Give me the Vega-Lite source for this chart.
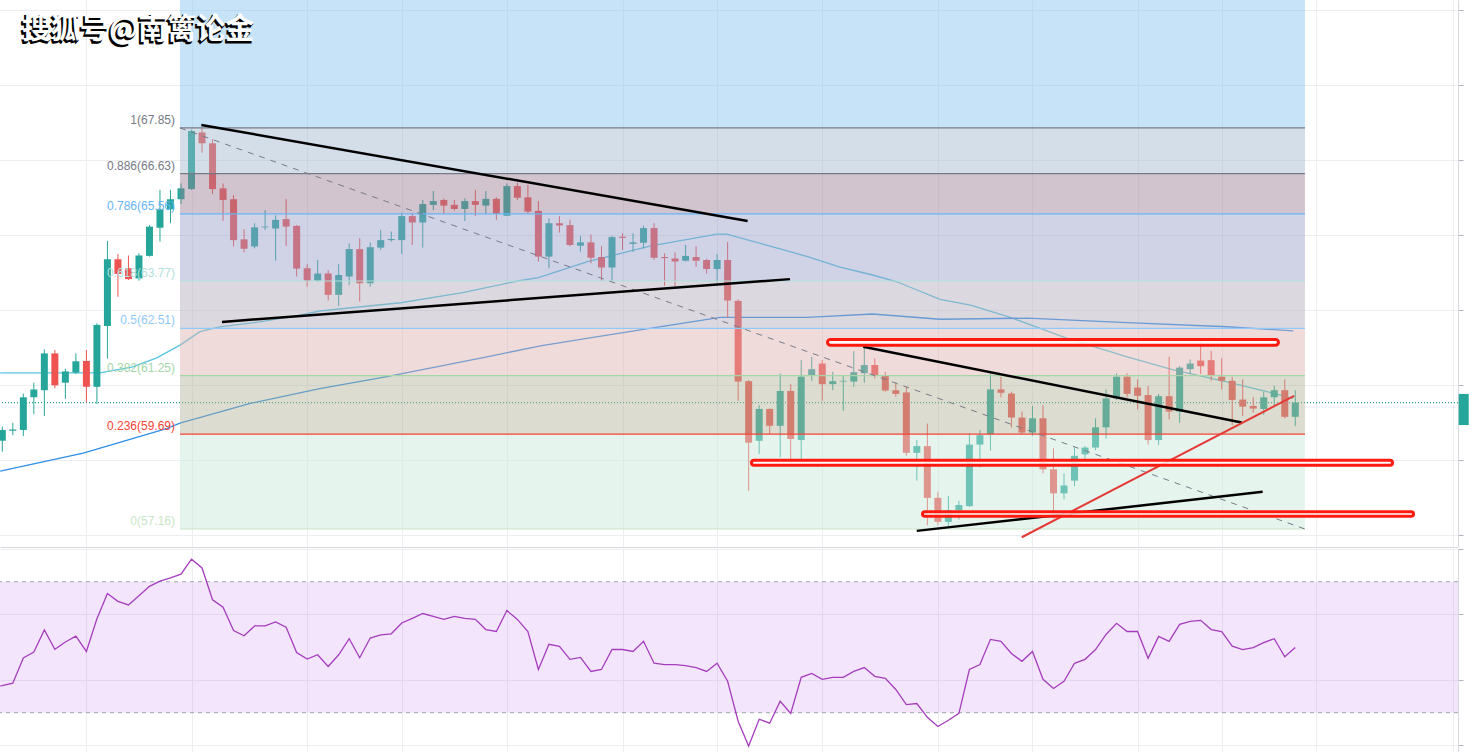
{
 "$schema": "https://vega.github.io/schema/vega-lite/v6.json",
 "padding": 0,
 "background": "#ffffff",
 "spacing": 1,
 "config": {"view": {"stroke": null}, "axis": {"gridColor": "#eceef2", "domainColor": "#d6d8de", "tickColor": "#b0b3bc", "labels": false, "title": null}},
 "datasets": {
  "candles": [
   {"i":0,"o":59.51,"h":59.89,"l":59.22,"c":59.80},{"i":1,"o":59.78,"h":59.99,"l":59.66,"c":59.81},{"i":2,"o":59.80,"h":60.77,"l":59.64,"c":60.67},{"i":3,"o":60.67,"h":61.06,"l":60.22,"c":60.88},{"i":4,"o":60.86,"h":61.95,"l":60.17,"c":61.84},{"i":5,"o":61.84,"h":61.93,"l":60.91,"c":60.99},{"i":6,"o":61.06,"h":61.43,"l":60.63,"c":61.36},{"i":7,"o":61.33,"h":61.84,"l":61.29,"c":61.63},{"i":8,"o":61.64,"h":61.93,"l":60.53,"c":60.95},{"i":9,"o":60.95,"h":62.64,"l":60.49,"c":62.60},
   {"i":10,"o":62.57,"h":64.84,"l":61.70,"c":64.35},{"i":11,"o":64.35,"h":64.49,"l":63.35,"c":63.96},{"i":12,"o":64.11,"h":64.45,"l":63.80,"c":63.82},{"i":13,"o":63.84,"h":64.51,"l":63.78,"c":64.45},{"i":14,"o":64.44,"h":65.26,"l":64.42,"c":65.22},{"i":15,"o":65.19,"h":66.20,"l":64.82,"c":65.68},{"i":16,"o":65.68,"h":66.20,"l":65.31,"c":65.95},{"i":17,"o":65.95,"h":66.37,"l":65.82,"c":66.24},{"i":18,"o":66.22,"h":67.81,"l":66.20,"c":67.77},{"i":19,"o":67.73,"h":67.85,"l":67.19,"c":67.44},
   {"i":20,"o":67.44,"h":67.55,"l":66.09,"c":66.22},{"i":21,"o":66.24,"h":66.37,"l":65.37,"c":65.93},{"i":22,"o":65.95,"h":66.06,"l":64.69,"c":64.86},{"i":23,"o":64.88,"h":65.15,"l":64.53,"c":64.63},{"i":24,"o":64.69,"h":65.31,"l":64.64,"c":65.20},{"i":25,"o":65.20,"h":65.66,"l":65.13,"c":65.22},{"i":26,"o":65.17,"h":65.52,"l":64.31,"c":65.40},{"i":27,"o":65.42,"h":65.95,"l":64.70,"c":65.22},{"i":28,"o":65.24,"h":65.26,"l":63.89,"c":64.10},{"i":29,"o":64.11,"h":64.22,"l":63.62,"c":63.78},
   {"i":30,"o":63.78,"h":64.33,"l":63.75,"c":63.97},{"i":31,"o":63.97,"h":64.06,"l":63.25,"c":63.40},{"i":32,"o":63.40,"h":64.22,"l":63.10,"c":63.93},{"i":33,"o":63.89,"h":64.77,"l":63.66,"c":64.62},{"i":34,"o":64.62,"h":64.91,"l":63.22,"c":63.71},{"i":35,"o":63.71,"h":64.80,"l":63.62,"c":64.67},{"i":36,"o":64.66,"h":65.13,"l":64.60,"c":64.86},{"i":37,"o":64.86,"h":65.09,"l":64.82,"c":64.89},{"i":38,"o":64.86,"h":65.59,"l":64.49,"c":65.50},{"i":39,"o":65.50,"h":65.59,"l":64.73,"c":65.33},
   {"i":40,"o":65.33,"h":65.93,"l":64.66,"c":65.82},{"i":41,"o":65.80,"h":66.17,"l":65.66,"c":65.90},{"i":42,"o":65.93,"h":65.97,"l":65.56,"c":65.78},{"i":43,"o":65.80,"h":65.93,"l":65.65,"c":65.69},{"i":44,"o":65.69,"h":65.97,"l":65.37,"c":65.90},{"i":45,"o":65.90,"h":66.20,"l":65.50,"c":65.80},{"i":46,"o":65.78,"h":66.17,"l":65.56,"c":65.96},{"i":47,"o":65.96,"h":66.00,"l":65.40,"c":65.56},{"i":48,"o":65.51,"h":66.37,"l":65.50,"c":66.30},{"i":49,"o":66.30,"h":66.39,"l":65.93,"c":65.99},
   {"i":50,"o":66.00,"h":66.33,"l":65.56,"c":65.62},{"i":51,"o":65.64,"h":65.90,"l":64.29,"c":64.42},{"i":52,"o":64.42,"h":65.44,"l":64.11,"c":65.31},{"i":53,"o":65.31,"h":65.50,"l":65.06,"c":65.25},{"i":54,"o":65.26,"h":65.40,"l":64.69,"c":64.73},{"i":55,"o":64.71,"h":64.97,"l":64.55,"c":64.80},{"i":56,"o":64.80,"h":65.01,"l":64.24,"c":64.39},{"i":57,"o":64.41,"h":64.70,"l":63.78,"c":64.13},{"i":58,"o":64.13,"h":64.97,"l":63.78,"c":64.94},{"i":59,"o":64.95,"h":65.04,"l":64.60,"c":64.92},
   {"i":60,"o":64.76,"h":65.04,"l":64.55,"c":64.80},{"i":61,"o":64.79,"h":65.24,"l":64.64,"c":65.18},{"i":62,"o":65.18,"h":65.31,"l":64.33,"c":64.39},{"i":63,"o":64.41,"h":64.51,"l":63.64,"c":64.38},{"i":64,"o":64.37,"h":64.53,"l":63.62,"c":64.29},{"i":65,"o":64.31,"h":64.73,"l":64.29,"c":64.44},{"i":66,"o":64.41,"h":64.70,"l":64.15,"c":64.31},{"i":67,"o":64.33,"h":64.36,"l":63.97,"c":64.09},{"i":68,"o":64.09,"h":64.49,"l":63.73,"c":64.33},{"i":69,"o":64.33,"h":64.81,"l":62.80,"c":63.25},
   {"i":70,"o":63.24,"h":63.28,"l":60.58,"c":61.09},{"i":71,"o":61.10,"h":61.13,"l":58.18,"c":59.46},{"i":72,"o":59.51,"h":60.46,"l":59.16,"c":60.36},{"i":73,"o":60.36,"h":60.37,"l":59.69,"c":59.91},{"i":74,"o":59.91,"h":61.31,"l":59.07,"c":60.84},{"i":75,"o":60.84,"h":61.02,"l":58.89,"c":59.56},{"i":76,"o":59.53,"h":61.66,"l":59.01,"c":61.22},{"i":77,"o":61.24,"h":61.75,"l":61.11,"c":61.42},{"i":78,"o":61.57,"h":61.66,"l":60.58,"c":61.02},{"i":79,"o":61.02,"h":61.35,"l":60.86,"c":61.10},
   {"i":80,"o":61.09,"h":61.26,"l":60.31,"c":61.11},{"i":81,"o":61.09,"h":61.90,"l":60.95,"c":61.34},{"i":82,"o":61.31,"h":62.00,"l":61.06,"c":61.53},{"i":83,"o":61.53,"h":61.71,"l":61.17,"c":61.24},{"i":84,"o":61.26,"h":61.35,"l":60.82,"c":60.85},{"i":85,"o":60.86,"h":61.06,"l":60.69,"c":60.76},{"i":86,"o":60.80,"h":60.95,"l":59.11,"c":59.19},{"i":87,"o":59.19,"h":59.53,"l":58.45,"c":59.37},{"i":88,"o":59.37,"h":59.97,"l":57.26,"c":57.99},{"i":89,"o":57.99,"h":58.15,"l":57.26,"c":57.35},
   {"i":90,"o":57.35,"h":58.04,"l":57.24,"c":57.66},{"i":91,"o":57.66,"h":57.91,"l":57.41,"c":57.80},{"i":92,"o":57.77,"h":59.71,"l":57.75,"c":59.41},{"i":93,"o":59.41,"h":59.80,"l":58.80,"c":59.66},{"i":94,"o":59.69,"h":61.31,"l":59.25,"c":60.88},{"i":95,"o":60.88,"h":61.22,"l":60.67,"c":60.79},{"i":96,"o":60.77,"h":60.82,"l":59.87,"c":60.13},{"i":97,"o":60.13,"h":60.29,"l":59.69,"c":59.73},{"i":98,"o":59.73,"h":60.44,"l":59.64,"c":60.11},{"i":99,"o":60.11,"h":60.46,"l":58.64,"c":58.75},
   {"i":100,"o":58.75,"h":59.31,"l":57.44,"c":58.11},{"i":101,"o":58.11,"h":58.64,"l":57.95,"c":58.32},{"i":102,"o":58.45,"h":59.35,"l":58.30,"c":59.11},{"i":103,"o":59.15,"h":59.37,"l":59.01,"c":59.33},{"i":104,"o":59.33,"h":60.11,"l":59.26,"c":59.87},{"i":105,"o":59.87,"h":60.88,"l":59.57,"c":60.64},{"i":106,"o":60.64,"h":61.31,"l":60.60,"c":61.22},{"i":107,"o":61.22,"h":61.31,"l":60.67,"c":60.76},{"i":108,"o":60.93,"h":61.15,"l":60.35,"c":60.71},{"i":109,"o":60.73,"h":60.97,"l":59.41,"c":59.53},
   {"i":110,"o":59.53,"h":60.76,"l":59.40,"c":60.70},{"i":111,"o":60.70,"h":61.75,"l":60.08,"c":60.29},{"i":112,"o":60.29,"h":61.50,"l":59.99,"c":61.46},{"i":113,"o":61.42,"h":61.68,"l":61.29,"c":61.57},{"i":114,"o":61.65,"h":62.21,"l":61.29,"c":61.50},{"i":115,"o":61.66,"h":61.91,"l":61.11,"c":61.25},{"i":116,"o":61.22,"h":61.71,"l":60.88,"c":61.11},{"i":117,"o":61.11,"h":61.22,"l":59.93,"c":60.60},{"i":118,"o":60.61,"h":61.15,"l":60.17,"c":60.42},{"i":119,"o":60.44,"h":60.67,"l":60.26,"c":60.37},
   {"i":120,"o":60.36,"h":60.82,"l":60.20,"c":60.67},{"i":121,"o":60.67,"h":60.98,"l":60.46,"c":60.86},{"i":122,"o":60.86,"h":61.15,"l":60.11,"c":60.15},{"i":123,"o":60.15,"h":60.86,"l":59.90,"c":60.53}
  ],
  "ma1": [
   {"i":-0.2,"v":61.32},{"i":9.3,"v":61.32},{"i":12.4,"v":61.48},{"i":14.7,"v":61.72},{"i":16.9,"v":62.06},{"i":18.8,"v":62.42},{"i":20.7,"v":62.55},{"i":24.5,"v":62.68},{"i":28.3,"v":62.86},{"i":30.2,"v":62.97},{"i":37.9,"v":63.19},{"i":43.8,"v":63.46},{"i":49.2,"v":63.78},{"i":51.0,"v":63.86},{"i":55.6,"v":64.28},{"i":61.6,"v":64.70},{"i":68.0,"v":65.02},{"i":68.9,"v":65.02},{"i":73.3,"v":64.68},{"i":76.6,"v":64.42},{"i":79.7,"v":64.14},{"i":82.8,"v":63.93},{"i":85.1,"v":63.75},{"i":89.2,"v":63.28},{"i":92.1,"v":63.13},{"i":94.2,"v":62.95},{"i":96.1,"v":62.78},{"i":101.3,"v":62.24},{"i":107.0,"v":61.75},{"i":111.4,"v":61.40},{"i":116.5,"v":61.08},{"i":120.3,"v":60.82},{"i":122.8,"v":60.64}
  ],
  "ma2": [
   {"i":-0.2,"v":58.70},{"i":7.7,"v":59.18},{"i":15.7,"v":59.84},{"i":16.9,"v":59.98},{"i":23.6,"v":60.51},{"i":30.2,"v":60.90},{"i":36.6,"v":61.22},{"i":46.1,"v":61.75},{"i":51.2,"v":62.04},{"i":55.6,"v":62.24},{"i":61.6,"v":62.51},{"i":68.3,"v":62.80},{"i":76.6,"v":62.80},{"i":82.8,"v":62.89},{"i":89.2,"v":62.75},{"i":97.5,"v":62.78},{"i":107.0,"v":62.66},{"i":116.5,"v":62.55},{"i":122.8,"v":62.44}
  ],
  "bands": [
   {"lv":"top","a":71.6,"b":67.85},{"lv":"1","a":67.85,"b":66.63},{"lv":"0.886","a":66.63,"b":65.56},{"lv":"0.786","a":65.56,"b":63.77},{"lv":"0.618","a":63.77,"b":62.51},{"lv":"0.5","a":62.51,"b":61.25},{"lv":"0.382","a":61.25,"b":59.69},{"lv":"0.236","a":59.69,"b":57.16}
  ],
  "levels": [
   {"lv":"1","v":67.85,"t":"1(67.85)"},{"lv":"0.886","v":66.63,"t":"0.886(66.63)"},{"lv":"0.786","v":65.56,"t":"0.786(65.56)"},{"lv":"0.618","v":63.77,"t":"0.618(63.77)"},{"lv":"0.5","v":62.51,"t":"0.5(62.51)"},{"lv":"0.382","v":61.25,"t":"0.382(61.25)"},{"lv":"0.236","v":59.69,"t":"0.236(59.69)"},{"lv":"0","v":57.16,"t":"0(57.16)"}
  ],
  "trend": [
   {"g":"a","i":18.93,"p":67.93},{"g":"a","i":70.9,"p":65.37},{"g":"b","i":20.9,"p":62.68},{"g":"b","i":74.93,"p":63.82},{"g":"c","i":81.9,"p":62.02},{"g":"c","i":117.9,"p":60.0},{"g":"d","i":86.99,"p":57.11},{"g":"d","i":119.9,"p":58.15}
  ],
  "boxes": [
   {"x1":78.5,"x2":121.4,"y1":62.21,"y2":62.06},{"x1":71.27,"x2":132.25,"y1":58.99,"y2":58.86},{"x1":87.54,"x2":134.25,"y1":57.62,"y2":57.50}
  ],
  "rsi": [
   {"i":-0.2,"v":38.2},{"i":0,"v":38.3},{"i":1,"v":39.0},{"i":2,"v":46.7},{"i":3,"v":48.5},{"i":4,"v":55.3},{"i":5,"v":49.4},{"i":6,"v":51.6},{"i":7,"v":53.4},{"i":8,"v":48.7},{"i":9,"v":58.7},
   {"i":10,"v":66.4},{"i":11,"v":64.0},{"i":12,"v":62.9},{"i":13,"v":65.7},{"i":14,"v":68.6},{"i":15,"v":70.2},{"i":16,"v":71.2},{"i":17,"v":72.3},{"i":18,"v":76.9},{"i":19,"v":74.2},
   {"i":20,"v":64.5},{"i":21,"v":62.2},{"i":22,"v":55.1},{"i":23,"v":53.5},{"i":24,"v":56.5},{"i":25,"v":56.5},{"i":26,"v":57.7},{"i":27,"v":56.1},{"i":28,"v":48.4},{"i":29,"v":46.4},
   {"i":30,"v":47.7},{"i":31,"v":44.1},{"i":32,"v":47.7},{"i":33,"v":52.6},{"i":34,"v":46.8},{"i":35,"v":52.8},{"i":36,"v":53.8},{"i":37,"v":54.1},{"i":38,"v":57.4},{"i":39,"v":58.8},
   {"i":40,"v":60.3},{"i":41,"v":59.4},{"i":42,"v":58.5},{"i":43,"v":59.4},{"i":44,"v":58.8},{"i":45,"v":58.5},{"i":46,"v":55.4},{"i":47,"v":54.8},{"i":48,"v":61.2},{"i":49,"v":58.5},
   {"i":50,"v":54.8},{"i":51,"v":43.2},{"i":52,"v":50.9},{"i":53,"v":50.3},{"i":54,"v":46.3},{"i":55,"v":46.9},{"i":56,"v":42.6},{"i":57,"v":43.2},{"i":58,"v":49.3},{"i":59,"v":49.3},
   {"i":60,"v":48.7},{"i":61,"v":51.8},{"i":62,"v":45.1},{"i":63,"v":44.7},{"i":64,"v":44.7},{"i":65,"v":44.4},{"i":66,"v":43.8},{"i":67,"v":42.6},{"i":68,"v":45.1},{"i":69,"v":39.6},
   {"i":70,"v":27.4},{"i":71,"v":19.8},{"i":72,"v":28.0},{"i":73,"v":26.8},{"i":74,"v":33.5},{"i":75,"v":29.8},{"i":76,"v":40.8},{"i":77,"v":42.0},{"i":78,"v":40.2},{"i":79,"v":40.8},
   {"i":80,"v":40.8},{"i":81,"v":42.6},{"i":82,"v":43.8},{"i":83,"v":41.1},{"i":84,"v":40.5},{"i":85,"v":37.1},{"i":86,"v":32.5},{"i":87,"v":32.8},{"i":88,"v":28.6},{"i":89,"v":25.8},
   {"i":90,"v":27.7},{"i":91,"v":29.8},{"i":92,"v":43.2},{"i":93,"v":44.7},{"i":94,"v":52.4},{"i":95,"v":51.8},{"i":96,"v":48.1},{"i":97,"v":45.7},{"i":98,"v":48.7},{"i":99,"v":40.2},
   {"i":100,"v":37.4},{"i":101,"v":39.6},{"i":102,"v":45.1},{"i":103,"v":46.3},{"i":104,"v":49.3},{"i":105,"v":53.9},{"i":106,"v":57.3},{"i":107,"v":54.8},{"i":108,"v":54.8},{"i":109,"v":46.6},
   {"i":110,"v":53.3},{"i":111,"v":51.8},{"i":112,"v":57.0},{"i":113,"v":57.9},{"i":114,"v":58.2},{"i":115,"v":55.4},{"i":116,"v":54.8},{"i":117,"v":50.3},{"i":118,"v":49.3},{"i":119,"v":49.9},
   {"i":120,"v":51.4},{"i":121,"v":52.6},{"i":122,"v":47.1},{"i":123,"v":49.9}
  ]
 },
 "vconcat": [
  {
   "width": 1458,
   "height": 547,
   "resolve": {"scale": {"color": "independent"}},
   "layer": [
    {
     "data": {"name": "ma1"},
     "mark": {"type": "line", "color": "#56c6df", "strokeWidth": 1.3, "clip": true},
     "encoding": {
      "x": {"field": "i", "type": "quantitative", "scale": {"domain": [-0.219, 138.48], "nice": false, "zero": false, "padding": 0}, "axis": {"orient": "bottom", "values": [8,18,29,38,48,59,68,78,89,98,108,116,125,138], "grid": true, "ticks": false, "labels": false, "domain": true}},
      "y": {"field": "v", "type": "quantitative", "scale": {"domain": [56.68, 71.26], "nice": false, "zero": false, "padding": 0}, "axis": {"orient": "right", "values": [57,58,59,60,61,62,63,64,65,66,67,68,69,70,71], "grid": true, "ticks": true, "tickSize": 5, "labels": false, "domain": true}}
     }
    },
    {
     "data": {"name": "ma2"},
     "mark": {"type": "line", "color": "#2f8fe8", "strokeWidth": 1.3, "clip": true},
     "encoding": {
      "x": {"field": "i", "type": "quantitative"},
      "y": {"field": "v", "type": "quantitative"}
     }
    },
    {
     "data": {"values": [{"p": 60.53}]},
     "mark": {"type": "rule", "color": "#1e9e90", "strokeDash": [1, 2], "strokeWidth": 1.2, "clip": true},
     "encoding": {"y": {"field": "p", "type": "quantitative"}}
    },
    {
     "data": {"name": "candles"},
     "mark": {"type": "rule", "strokeWidth": 1, "clip": true},
     "encoding": {
      "x": {"field": "i", "type": "quantitative"},
      "y": {"field": "l", "type": "quantitative"},
      "y2": {"field": "h"},
      "color": {"condition": {"test": "datum.o < datum.c", "value": "#26a69a"}, "value": "#ef5350"}
     }
    },
    {
     "data": {"name": "candles"},
     "mark": {"type": "bar", "size": 7, "clip": true},
     "encoding": {
      "x": {"field": "i", "type": "quantitative"},
      "y": {"field": "o", "type": "quantitative"},
      "y2": {"field": "c"},
      "color": {"condition": {"test": "datum.o < datum.c", "value": "#26a69a"}, "value": "#ef5350"}
     }
    },
    {
     "data": {"name": "bands"},
     "mark": {"type": "rect", "opacity": 0.45, "clip": true},
     "encoding": {
      "x": {"datum": 16.9, "type": "quantitative"},
      "x2": {"datum": 123.92},
      "y": {"field": "a", "type": "quantitative"},
      "y2": {"field": "b"},
      "color": {"field": "lv", "type": "nominal", "legend": null, "scale": {"domain": ["top","1","0.886","0.786","0.618","0.5","0.382","0.236"], "range": ["#80c1ef","#9db5cc","#997c92","#979bc7","#b1a8ba","#d9afad","#b1b197","#c7e6d9"]}}
     }
    },
    {
     "data": {"name": "levels"},
     "mark": {"type": "rule", "strokeWidth": 1.2},
     "encoding": {
      "x": {"datum": 16.9, "type": "quantitative"},
      "x2": {"datum": 123.92},
      "y": {"field": "v", "type": "quantitative"},
      "color": {"field": "lv", "type": "nominal", "legend": null, "scale": {"domain": ["1","0.886","0.786","0.618","0.5","0.382","0.236","0"], "range": ["#787b86","#787b86","#64b5f6","#b2dfdb","#90caf9","#a5d6a7","#f44336","#c8e6c9"]}}
     }
    },
    {
     "data": {"name": "levels"},
     "mark": {"type": "text", "align": "right", "baseline": "bottom", "dy": -1, "font": "Liberation Sans", "fontSize": 12},
     "encoding": {
      "x": {"datum": 16.43, "type": "quantitative"},
      "y": {"field": "v", "type": "quantitative"},
      "text": {"field": "t"},
      "color": {"field": "lv", "type": "nominal", "legend": null, "scale": {"domain": ["1","0.886","0.786","0.618","0.5","0.382","0.236","0"], "range": ["#787b86","#787b86","#64b5f6","#b2dfdb","#90caf9","#a5d6a7","#f44336","#c8e6c9"]}}
     }
    },
    {
     "data": {"values": [{"i": 16.9, "p": 67.85}, {"i": 123.92, "p": 57.16}]},
     "mark": {"type": "line", "color": "#787b86", "strokeDash": [6, 6], "strokeWidth": 1},
     "encoding": {"x": {"field": "i", "type": "quantitative"}, "y": {"field": "p", "type": "quantitative"}}
    },
    {
     "data": {"name": "trend"},
     "mark": {"type": "line", "color": "#000000", "strokeWidth": 2.5},
     "encoding": {"x": {"field": "i", "type": "quantitative"}, "y": {"field": "p", "type": "quantitative"}, "detail": {"field": "g"}}
    },
    {
     "data": {"values": [{"i": 96.98, "p": 56.94}, {"i": 122.9, "p": 60.71}]},
     "mark": {"type": "line", "color": "#e53935", "strokeWidth": 2},
     "encoding": {"x": {"field": "i", "type": "quantitative"}, "y": {"field": "p", "type": "quantitative"}}
    },
    {
     "data": {"name": "boxes"},
     "mark": {"type": "rect", "fill": "#ffffff", "fillOpacity": 0.85, "stroke": "#ff1a10", "strokeWidth": 3, "cornerRadius": 3},
     "encoding": {"x": {"field": "x1", "type": "quantitative"}, "x2": {"field": "x2"}, "y": {"field": "y1", "type": "quantitative"}, "y2": {"field": "y2"}}
    },
    {
     "data": {"values": [{"i": 1.87, "p": 70.46, "t": "搜狐号@南篱论金"}]},
     "mark": {"type": "text", "align": "left", "baseline": "middle", "font": "Noto Sans CJK SC", "fontWeight": "bold", "fontSize": 29, "fill": "#000000", "stroke": "#000000", "strokeWidth": 1.2, "dx": -1.5, "dy": 1.5},
     "encoding": {"x": {"field": "i", "type": "quantitative"}, "y": {"field": "p", "type": "quantitative"}, "text": {"field": "t"}}
    },
    {
     "data": {"values": [{"i": 1.87, "p": 70.46, "t": "搜狐号@南篱论金"}]},
     "mark": {"type": "text", "align": "left", "baseline": "middle", "font": "Noto Sans CJK SC", "fontWeight": "bold", "fontSize": 29, "fill": "#ffffff"},
     "encoding": {"x": {"field": "i", "type": "quantitative"}, "y": {"field": "p", "type": "quantitative"}, "text": {"field": "t"}}
    },
    {
     "data": {"values": [{"a": 138.55, "b": 139.5, "lo": 59.93, "hi": 60.76}]},
     "mark": {"type": "rect", "color": "#26a69a"},
     "encoding": {"x": {"field": "a", "type": "quantitative"}, "x2": {"field": "b"}, "y": {"field": "lo", "type": "quantitative"}, "y2": {"field": "hi"}}
    }
   ]
  },
  {
   "width": 1458,
   "height": 203,
   "layer": [
    {
     "data": {"values": [{"lo": 30, "hi": 70}]},
     "mark": {"type": "rect", "color": "#af58eb", "opacity": 0.15},
     "encoding": {
      "x": {"datum": -0.219, "type": "quantitative", "scale": {"domain": [-0.219, 138.48], "nice": false, "zero": false, "padding": 0}, "axis": {"orient": "bottom", "values": [8,18,29,38,48,59,68,78,89,98,108,116,125,138], "grid": true, "ticks": false, "labels": false, "domain": true}},
      "x2": {"datum": 138.48},
      "y": {"field": "lo", "type": "quantitative", "scale": {"domain": [18, 80], "nice": false, "zero": false, "padding": 0}, "axis": {"orient": "right", "values": [20,30,40,50,60,70,80], "grid": true, "ticks": true, "tickSize": 5, "labels": false, "domain": true}},
      "y2": {"field": "hi"}
     }
    },
    {
     "data": {"values": [{"v": 70}, {"v": 30}]},
     "mark": {"type": "rule", "color": "#a3a5ad", "strokeDash": [4, 4], "strokeWidth": 1, "clip": true},
     "encoding": {"y": {"field": "v", "type": "quantitative"}}
    },
    {
     "data": {"name": "rsi"},
     "mark": {"type": "line", "color": "#a53dbd", "strokeWidth": 1.3, "clip": true},
     "encoding": {"x": {"field": "i", "type": "quantitative"}, "y": {"field": "v", "type": "quantitative"}}
    }
   ]
  }
 ]
}
